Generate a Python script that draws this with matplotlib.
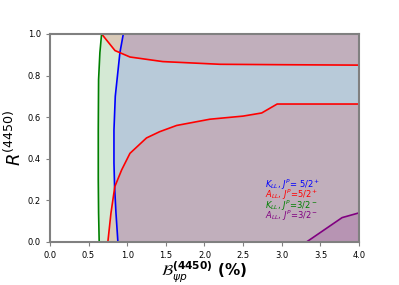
import matplotlib.pyplot as plt

# K_LL, J^P = 3/2^-  (green boundary, region to the right allowed)
green_x = [0.669, 0.647, 0.630, 0.626, 0.626, 0.630, 0.638]
green_y = [1.0, 0.91, 0.78, 0.54, 0.30, 0.14, 0.0]

# K_LL, J^P = 5/2^+  (blue boundary)
blue_x = [0.95, 0.906, 0.846, 0.829, 0.829, 0.837, 0.855, 0.88]
blue_y = [1.0, 0.91, 0.70, 0.538, 0.38, 0.266, 0.139, 0.0]

# A_LL, J^P = 5/2^+  (red, upper and lower boundaries)
red_up_x = [0.669, 0.842, 1.036, 1.46, 2.2, 3.0, 4.0]
red_up_y = [1.0, 0.92, 0.889, 0.867, 0.854, 0.852, 0.85]
red_lo_x = [0.75, 0.79, 0.84, 0.928, 1.036, 1.25, 1.42, 1.64, 2.07, 2.5, 2.74, 2.94, 4.0]
red_lo_y = [0.0, 0.138, 0.266, 0.346, 0.426, 0.50, 0.53, 0.56, 0.59, 0.605, 0.62, 0.663, 0.663]

# A_LL, J^P = 3/2^-  (purple)
purple_x = [3.32, 3.78, 4.0]
purple_y = [0.0, 0.117, 0.14]

labels = [r'$K_{LL}$, $J^P$= 5/2$^+$', r'$A_{LL}$, $J^P$=5/2$^+$',
          r'$K_{LL}$, $J^P$=3/2$^-$', r'$A_{LL}$, $J^P$=3/2$^-$']
colors = ['blue', 'red', 'green', 'purple']

xmax = 4.0

fig = plt.figure(figsize=(3.99, 2.85), dpi=100)
ax = fig.add_axes([0.125, 0.151, 0.775, 0.730])

ax.fill_betweenx(green_y, green_x, xmax, color='green', alpha=0.17, lw=0)
ax.fill_betweenx(blue_y, blue_x, xmax, color='blue', alpha=0.13, lw=0)
ax.fill_between(red_up_x, red_up_y, 1.0, color='red', alpha=0.13, lw=0)
ax.fill_between(red_lo_x, 0.0, red_lo_y, color='red', alpha=0.13, lw=0)
ax.fill_between(purple_x, 0.0, purple_y, color='purple', alpha=0.15, lw=0)

ax.plot(blue_x, blue_y, color='blue', lw=1.2)
ax.plot(red_up_x, red_up_y, color='red', lw=1.2)
ax.plot(red_lo_x, red_lo_y, color='red', lw=1.2)
ax.plot(green_x, green_y, color='green', lw=1.2)
ax.plot(purple_x, purple_y, color='purple', lw=1.2)

# text-only legend
for i, (lab, c) in enumerate(zip(labels, colors)):
    ax.text(0.697, 0.274 - i * 0.049, lab, color=c, fontsize=6,
            transform=ax.transAxes, va='center', ha='left')

ax.set_xlim(0, 4)
ax.set_ylim(0, 1)
ax.set_xticks([0, 0.5, 1, 1.5, 2, 2.5, 3, 3.5, 4])
ax.set_yticks([0, 0.2, 0.4, 0.6, 0.8, 1.0])
ax.tick_params(labelsize=6, color='gray', length=3)
for s in ax.spines.values():
    s.set_color('gray')
    s.set_linewidth(1.5)

ax.set_xlabel(r'$\mathcal{B}^{\mathbf{(4450)}}_{\psi p}$ (%)', fontsize=11,
              fontweight='bold', labelpad=0)
ax.set_ylabel(r'$R^{(4450)}$', fontsize=13, labelpad=2)

fig.savefig('out.png', dpi=100)
